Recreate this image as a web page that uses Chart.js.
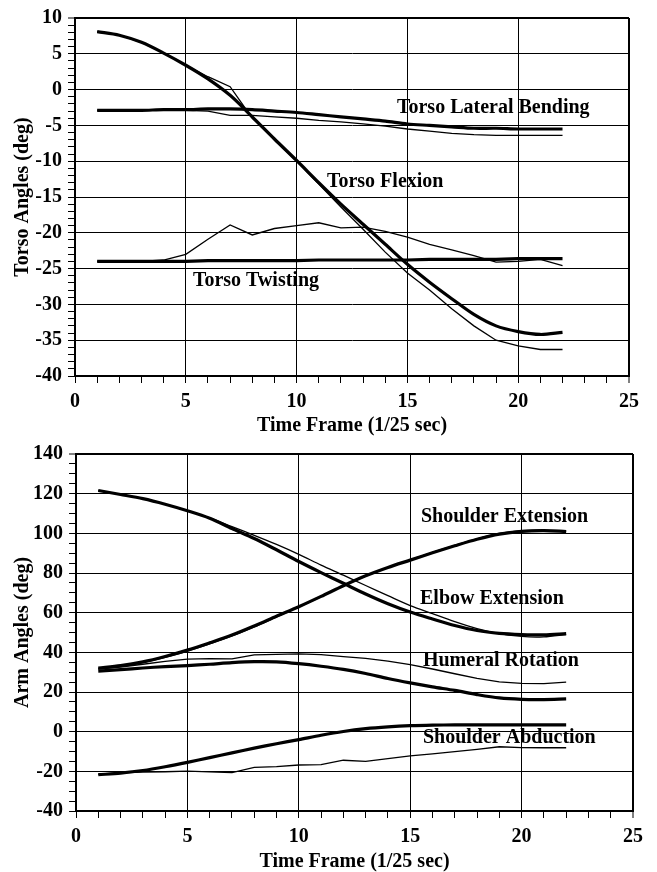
<!DOCTYPE html>
<html><head><meta charset="utf-8">
<script src="https://cdn.jsdelivr.net/npm/chart.js@4/dist/chart.umd.min.js"></script>
<style>
html,body{margin:0;padding:0;background:#fff;}
#wrap{position:relative;width:657px;height:872px;overflow:hidden;}
canvas{position:absolute;left:0;}
</style></head><body>
<div id="wrap">
<canvas id="c1" width="657" height="436" style="top:0px"></canvas>
<canvas id="c2" width="657" height="436" style="top:436px"></canvas>
</div>
<script>
// ---- data ----
const frames = [1,2,3,4,5,6,7,8,9,10,11,12,13,14,15,16,17,18,19,20,21,22];

const torsoFlexionA = [8.1,7.6,6.6,5.1,3.4,1.5,-0.8,-3.8,-6.9,-9.9,-13.0,-16.0,-18.8,-21.6,-24.4,-26.9,-29.2,-31.4,-33.0,-33.8,-34.2,-33.9];
const torsoFlexionB = [8.1,7.6,6.6,5.1,3.4,1.8,0.4,-4.0,-7.0,-10.0,-13.2,-16.4,-19.5,-22.7,-25.6,-28.0,-30.6,-33.0,-35.0,-35.8,-36.3,-36.3];
const torsoLateralA = [-2.9,-2.9,-2.9,-2.8,-2.8,-2.7,-2.7,-2.8,-3.0,-3.2,-3.5,-3.8,-4.1,-4.4,-4.8,-5.0,-5.2,-5.4,-5.4,-5.5,-5.5,-5.5];
const torsoLateralB = [-2.9,-2.9,-2.9,-2.9,-2.9,-3.0,-3.6,-3.6,-3.8,-4.0,-4.3,-4.5,-4.8,-5.1,-5.5,-5.8,-6.1,-6.3,-6.4,-6.4,-6.4,-6.4];
const torsoTwistA = [-24.0,-24.0,-24.0,-24.0,-24.0,-23.9,-23.9,-23.9,-23.9,-23.9,-23.8,-23.8,-23.8,-23.8,-23.8,-23.7,-23.7,-23.7,-23.7,-23.6,-23.6,-23.6];
const torsoTwistB = [-24.0,-24.0,-24.0,-23.8,-23.0,-20.9,-18.9,-20.3,-19.4,-19.0,-18.6,-19.3,-19.2,-19.8,-20.6,-21.6,-22.4,-23.2,-24.1,-24.0,-23.7,-24.6];

const shoulderExtA = [32.1,33.3,35.2,37.9,41.1,44.8,48.7,53.3,58.2,63.0,68.2,73.6,78.6,82.8,86.5,90.2,93.7,97.0,99.6,101.0,101.4,100.9];
const shoulderExtB = [31.9,33.0,34.9,37.5,40.7,44.3,48.3,52.9,57.9,62.9,68.1,73.5,78.5,82.8,86.6,90.4,93.9,97.2,99.9,101.3,101.6,101.1];
const elbowExtA = [121.6,119.6,117.5,114.7,111.4,107.6,102.4,97.4,91.7,85.8,80.2,74.8,69.4,64.5,60.3,56.8,53.5,51.0,49.6,49.0,48.8,49.4];
const elbowExtB = [121.6,119.6,117.5,114.7,111.4,107.8,103.4,99.0,94.4,89.4,84.0,78.9,73.7,68.6,63.6,59.5,55.5,52.0,49.5,48.0,47.8,49.0];
const humeralRotA = [30.5,31.3,32.1,32.8,33.3,34.0,34.8,35.3,35.2,34.3,33.0,31.4,29.3,26.8,24.6,22.6,20.8,18.7,17.0,16.3,16.2,16.5];
const humeralRotB = [31.5,32.6,34.0,35.4,36.6,36.8,36.7,38.7,39.0,39.2,38.8,37.8,37.0,35.6,33.8,31.6,29.2,26.9,25.1,24.3,24.2,25.0];
const shoulderAbdA = [-21.7,-20.9,-19.6,-17.7,-15.5,-13.1,-10.7,-8.3,-6.1,-4.0,-1.8,0.1,1.5,2.4,3.0,3.3,3.4,3.4,3.4,3.4,3.4,3.4];
const shoulderAbdB = [-21.5,-20.8,-20.4,-20.2,-19.9,-20.3,-20.6,-18.0,-17.6,-16.8,-16.6,-14.4,-15.0,-13.6,-12.2,-11.2,-10.1,-8.9,-7.6,-8.0,-8.1,-8.1];

// ---- labels (in data units) ----
const torsoLabels = [
  {text:'Torso Lateral Bending', x:14.53, y:-2.5},
  {text:'Torso Flexion', x:11.37, y:-12.9},
  {text:'Torso Twisting', x:5.32, y:-26.7}
];
const armLabels = [
  {text:'Shoulder Extension', x:15.48, y:108.5},
  {text:'Elbow Extension', x:15.44, y:67.1},
  {text:'Humeral Rotation', x:15.57, y:35.6},
  {text:'Shoulder Abduction', x:15.57, y:-2.9}
];

// ---- styling / build ----
const FONT = "'Liberation Serif','Times New Roman',Times,serif";
const BLACK = '#000';

function series(vals, width, tension) {
  return {
    data: frames.map((f, i) => ({x: f, y: vals[i]})),
    borderColor: BLACK,
    borderWidth: width,
    pointRadius: 0,
    tension: tension,
    fill: false
  };
}

const labelPlugin = {
  id: 'inlineLabels',
  afterDatasetsDraw(chart, args, opts) {
    const {ctx, scales} = chart;
    ctx.save();
    ctx.fillStyle = BLACK;
    ctx.font = 'bold 20px ' + FONT;
    ctx.textAlign = 'left';
    ctx.textBaseline = 'middle';
    (opts.items || []).forEach(l => {
      ctx.fillText(l.text, scales.x.getPixelForValue(l.x), scales.y.getPixelForValue(l.y));
    });
    ctx.restore();
  }
};

function makeChart(id, datasets, cfg) {
  return new Chart(document.getElementById(id), {
    type: 'line',
    data: {datasets},
    plugins: [labelPlugin],
    options: {
      responsive: false,
      animation: false,
      devicePixelRatio: 1,
      layout: {padding: {top: cfg.padTop, right: cfg.padRight, left: 0, bottom: 0}},
      plugins: {
        legend: {display: false},
        tooltip: {enabled: false},
        inlineLabels: {items: cfg.labels}
      },
      scales: {
        x: {
          type: 'linear', min: 0, max: 25,
          afterFit: s => { s.height = cfg.xHeight; },
          ticks: {
            stepSize: 1, autoSkip: false, maxRotation: 0, color: BLACK, padding: 7,
            font: {family: FONT, size: 20, weight: 'bold'},
            callback: v => (v % 5 === 0 ? String(v) : '')
          },
          grid: {
            color: c => (c.tick && c.tick.value % 5 === 0) ? BLACK : 'rgba(0,0,0,0)',
            lineWidth: c => (c.tick && c.tick.value === 25) ? 2 : 1,
            tickColor: BLACK, tickLength: 7, tickWidth: 1
          },
          border: {color: BLACK, width: 2},
          title: {
            display: true, text: 'Time Frame (1/25 sec)', color: BLACK,
            font: {family: FONT, size: 20, weight: 'bold', lineHeight: 1.2},
            padding: {top: 0, bottom: -2}
          }
        },
        y: {
          type: 'linear', min: cfg.yMin, max: cfg.yMax,
          afterFit: s => { s.width = cfg.yWidth; },
          ticks: {
            stepSize: cfg.yMinor, autoSkip: false, color: BLACK, padding: 6,
            font: {family: FONT, size: 20, weight: 'bold'},
            callback: v => (v % cfg.yMajor === 0 ? String(v) : '')
          },
          grid: {
            color: c => (c.tick && c.tick.value % cfg.yMajor === 0) ? BLACK : 'rgba(0,0,0,0)',
            lineWidth: c => (c.tick && c.tick.value === cfg.yMax) ? 2 : 1,
            tickColor: BLACK, tickLength: 7, tickWidth: 1
          },
          border: {color: BLACK, width: 2},
          title: {
            display: true, text: cfg.yTitle, color: BLACK,
            font: {family: FONT, size: 20, weight: 'bold', lineHeight: 1.2},
            padding: {top: 11, bottom: 0}
          }
        }
      }
    }
  });
}

makeChart('c1', [
  series(torsoFlexionA, 3.2, 0.3),
  series(torsoFlexionB, 1.3, 0),
  series(torsoLateralA, 3.2, 0.3),
  series(torsoLateralB, 1.3, 0),
  series(torsoTwistA, 3.2, 0),
  series(torsoTwistB, 1.3, 0)
], {padTop: 16, padRight: 28, xHeight: 60, yWidth: 75, yMin: -40, yMax: 10, yMinor: 1, yMajor: 5,
    yTitle: 'Torso Angles (deg)', labels: torsoLabels});

makeChart('c2', [
  series(shoulderExtA, 3.2, 0.3),
  series(shoulderExtB, 1.5, 0.3),
  series(elbowExtA, 3.2, 0.3),
  series(elbowExtB, 1.3, 0.3),
  series(humeralRotA, 3.2, 0.3),
  series(humeralRotB, 1.3, 0),
  series(shoulderAbdA, 3.2, 0.3),
  series(shoulderAbdB, 1.3, 0)
], {padTop: 10, padRight: 24, xHeight: 61, yWidth: 76, yMin: -40, yMax: 140, yMinor: 5, yMajor: 20,
    yTitle: 'Arm Angles (deg)', labels: armLabels});
</script>
</body></html>
